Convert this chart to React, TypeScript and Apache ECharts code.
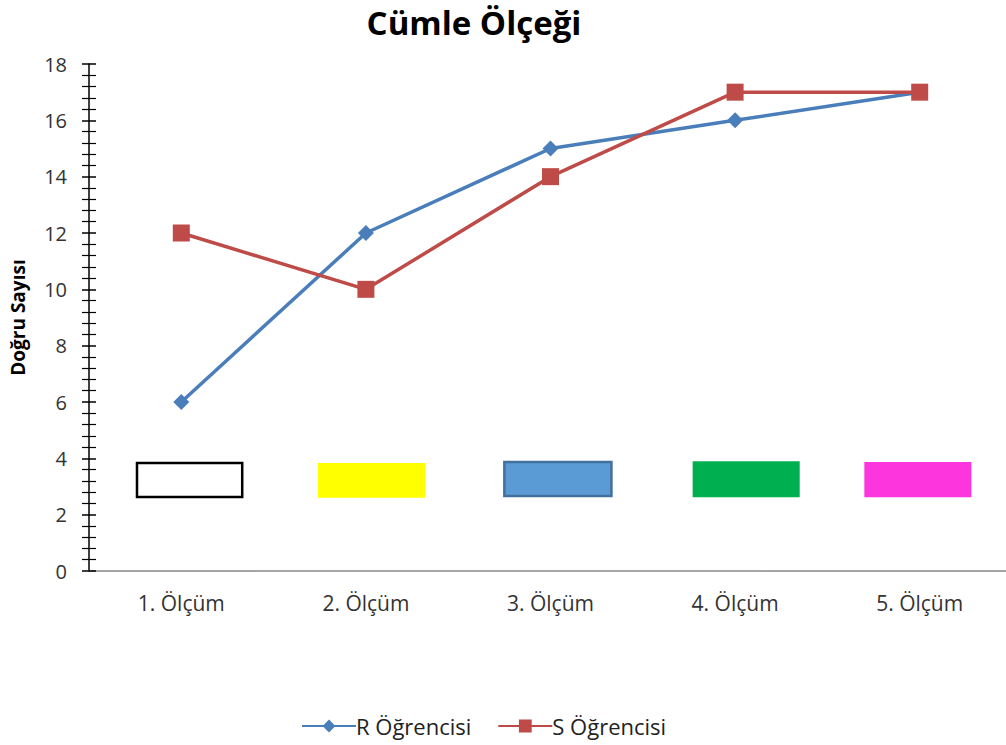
import React, { useEffect, useRef } from "react";
import * as echarts from "echarts";

const categories = ["1. Ölçüm", "2. Ölçüm", "3. Ölçüm", "4. Ölçüm", "5. Ölçüm"];
const rValues = [6, 12, 15, 16, 17];
const sValues = [12, 10, 14, 17, 17];
const yTicks = { min: 0, max: 18, interval: 2 };
// decorative boxes: [xStart, xEnd, yLow, yHigh] in category units
const boxes = [
  [-0.24, 0.33, 2.63, 3.83],
  [0.74, 1.32, 2.6, 3.83],
  [1.75, 2.33, 2.66, 3.87],
  [2.77, 3.35, 2.62, 3.9],
  [3.7, 4.28, 2.62, 3.87],
];
const boxColors = ["#FFFFFF", "#FFFF00", "#5B9BD5", "#00B050", "#FC36DC"];
const boxBorders = ["#000000", null, "#41719C", null, null];

const FONT = "'Open Sans', 'Liberation Sans', sans-serif";

export default function App() {
  const ref = useRef<HTMLDivElement>(null);
  useEffect(() => {
    const chart = echarts.init(ref.current!, null, { renderer: "svg" });
    chart.setOption({
      animation: false,
      backgroundColor: "#FFFFFF",
      textStyle: { fontFamily: FONT },
      title: {
        text: "Cümle Ölçeği",
        left: 474,
        textAlign: "center",
        top: 4,
        padding: 0,
        textStyle: { fontFamily: FONT, fontSize: 33, lineHeight: 36, fontWeight: "bold", color: "#000" },
      },
      legend: {
        bottom: 3,
        left: 296,
        itemWidth: 54,
        itemHeight: 16,
        itemGap: 26,
        textStyle: { fontFamily: FONT, fontSize: 22, color: "#222", padding: [0, 0, 0, -5] },
        data: ["R Öğrencisi", "S Öğrencisi"],
      },
      grid: { left: 89, right: 8, top: 64, height: 507, containLabel: false },
      xAxis: [
        {
          type: "category",
          data: categories,
          axisLine: { lineStyle: { color: "#888", width: 1.5 } },
          axisTick: { show: false },
          axisLabel: { fontFamily: FONT, fontSize: 21, color: "#333", margin: 21 },
        },
        {
          type: "value",
          min: -0.5,
          max: 4.5,
          show: false,
        },
      ],
      yAxis: [
        {
          type: "value",
          min: yTicks.min,
          max: yTicks.max,
          interval: yTicks.interval,
          name: "Doğru Sayısı",
          nameLocation: "middle",
          nameGap: 62,
          nameTextStyle: { fontFamily: FONT, fontSize: 19, fontWeight: "bold", color: "#000" },
          axisLine: { show: true, onZero: false, lineStyle: { color: "#000", width: 1.5 } },
          axisTick: { show: true, length: 7, lineStyle: { color: "#000", width: 1.5 } },
          minorTick: { show: true, splitNumber: 5, length: 7, lineStyle: { color: "#000", width: 1.2 } },
          splitLine: { show: false },
          axisLabel: { fontFamily: FONT, fontSize: 20, color: "#333", margin: 22 },
        },
        {
          type: "value",
          min: yTicks.min,
          max: yTicks.max,
          interval: yTicks.interval,
          position: "left",
          offset: 0,
          axisLine: { show: false, onZero: false },
          axisTick: { show: true, inside: true, length: 7, lineStyle: { color: "#000", width: 1.5 } },
          minorTick: { show: true, splitNumber: 5, length: 7, lineStyle: { color: "#000", width: 1.2 } },
          splitLine: { show: false },
          axisLabel: { show: false },
        },
      ],
      series: [
        {
          type: "custom",
          xAxisIndex: 1,
          yAxisIndex: 0,
          silent: true,
          data: boxes,
          renderItem: (params: any, api: any) => {
            const i = params.dataIndex;
            const p1 = api.coord([api.value(0), api.value(3)]);
            const p2 = api.coord([api.value(1), api.value(2)]);
            const border = boxBorders[i];
            return {
              type: "rect",
              shape: { x: p1[0], y: p1[1], width: p2[0] - p1[0], height: p2[1] - p1[1] },
              style: {
                fill: boxColors[i],
                stroke: border || "none",
                lineWidth: border ? 2.5 : 0,
              },
            };
          },
        },
        {
          name: "R Öğrencisi",
          type: "line",
          data: rValues,
          symbol: "diamond",
          symbolSize: 16,
          lineStyle: { color: "#4A7EBB", width: 3.5 },
          itemStyle: { color: "#4A7EBB" },
        },
        {
          name: "S Öğrencisi",
          type: "line",
          data: sValues,
          symbol: "rect",
          symbolSize: 17,
          lineStyle: { color: "#BE4B48", width: 3.5 },
          itemStyle: { color: "#BE4B48" },
        },
      ],
    });
    return () => chart.dispose();
  }, []);
  return (
    <div
      ref={ref}
      style={{ position: "fixed", left: 0, top: 0, width: 1020, height: 745, background: "#fff" }}
    />
  );
}
